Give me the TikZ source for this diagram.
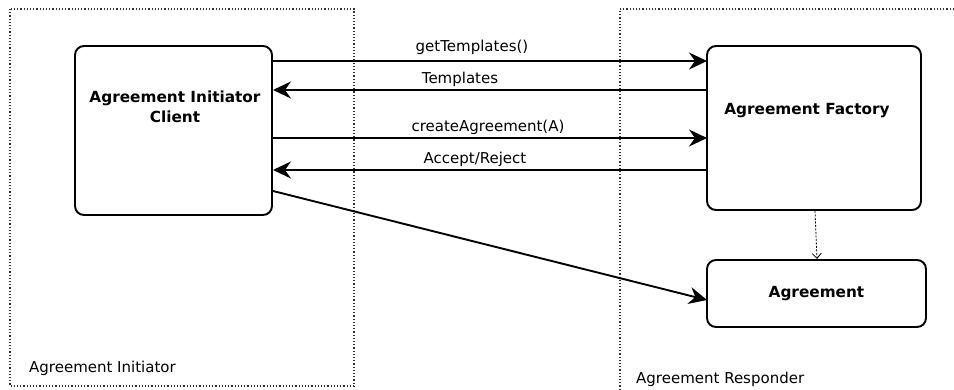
\documentclass[tikz,border=0pt]{standalone}
\usepackage{fontspec}
\setmainfont{DejaVu Sans}
\usetikzlibrary{arrows.meta}
\begin{document}
\begin{tikzpicture}[x=1pt,y=-1pt,
  container/.style={draw=black!80,line width=1.2pt,dotted},
  entity/.style={draw,line width=1.9pt,rounded corners=9pt,fill=white},
  msg/.style={line width=1.9pt,-{Stealth[length=18pt,width=17pt,inset=6pt]}},
  creates/.style={line width=0.8pt,dash pattern=on 2pt off 1.5pt,-{Straight Barb[length=5pt,width=9pt]}},
  lbl/.style={font=\fontsize{15}{17}\selectfont,inner sep=0pt},
  boxtext/.style={font=\fontsize{15.3}{20}\selectfont\bfseries,inner sep=0pt,align=center}]
\useasboundingbox (0,0) rectangle (954,389);
% the two parties
\draw[container] (10,9) rectangle (354,386);
\draw[container] (954,9) -- (620,9) -- (620,389);
\node[lbl,anchor=base west] (ini) at (29,372) {Agreement Initiator};
\node[lbl,anchor=base west] (resp) at (636,383) {Agreement Responder};
% participants
\draw[entity] (75,46) rectangle (272,215);
\node[boxtext] (client) at (175,107) {Agreement Initiator\\Client};
\draw[entity] (707,46) rectangle (921,210);
\node[boxtext] (factory) at (807,111) {Agreement Factory};
\draw[entity] (707,260) rectangle (926,327);
\node[boxtext] (agr) at (816.5,294) {Agreement};
% anchor points on the participant borders
\coordinate (c1) at (273,61);
\coordinate (c2) at (273,90);
\coordinate (c3) at (273,138);
\coordinate (c4) at (273,170);
\coordinate (c5) at (273,191);
\coordinate (f1) at (707,61);
\coordinate (f2) at (707,90);
\coordinate (f3) at (707,138);
\coordinate (f4) at (707,170);
\coordinate (a1) at (707,300);
\coordinate (fb) at (815,211);
\coordinate (at) at (817,259);
% messages
\draw[msg] (c1) -- (f1);
\node[lbl,anchor=base] (l1) at (472,51) {getTemplates()};
\draw[msg] (f2) -- (c2);
\node[lbl,anchor=base] (l2) at (460,83) {Templates};
\draw[msg] (c3) -- (f3);
\node[lbl,anchor=base] (l3) at (488,131) {createAgreement(A)};
\draw[msg] (f4) -- (c4);
\node[lbl,anchor=base] (l4) at (475,163) {Accept/Reject};
\draw[msg] (c5) -- (a1);
\draw[creates] (fb) -- (at);
\end{tikzpicture}
\end{document}
